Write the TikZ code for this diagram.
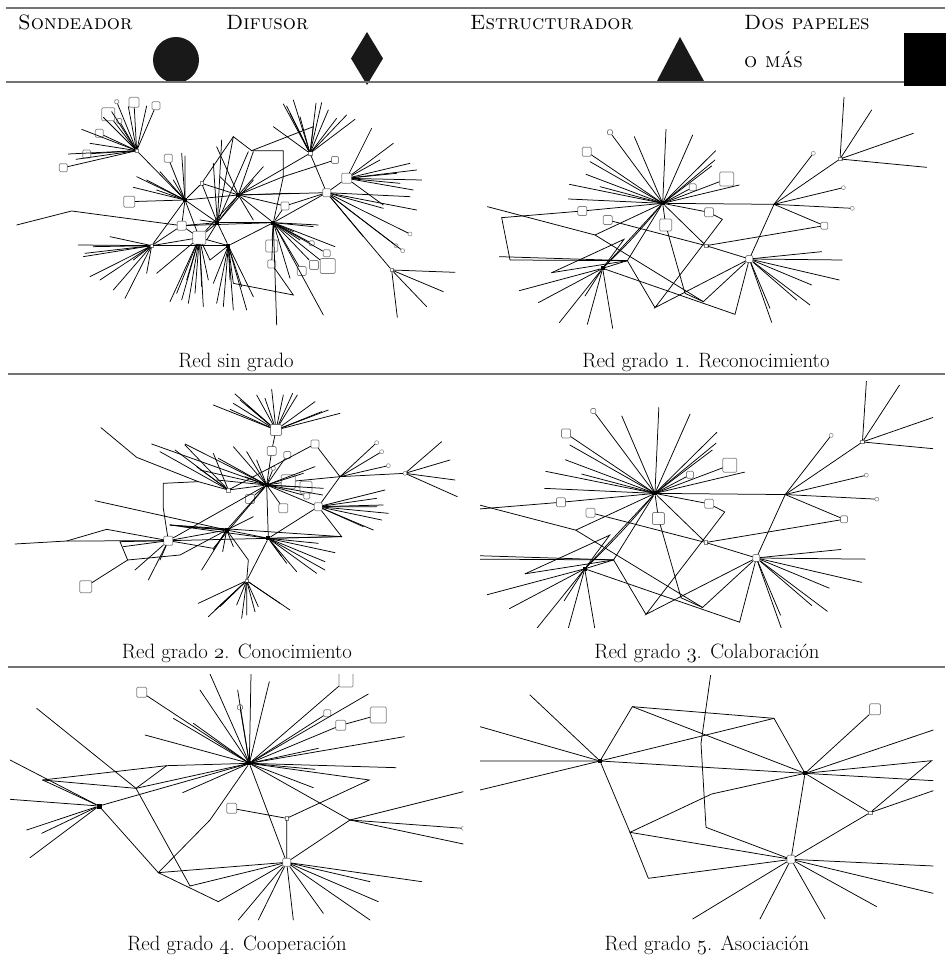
\documentclass[tikz,border=0pt]{standalone}
\usetikzlibrary{positioning}

% old style figures from the math italic font
\newcommand{\osn}[1]{{\fontencoding{OML}\fontfamily{cmm}\fontshape{it}\selectfont #1}}

\tikzset{
  tie/.style={line width=0.75pt, line cap=round},
  hub/.style={fill=black, inner sep=0pt, minimum size=4pt},
  tiny/.style={draw=gray, fill=white, inner sep=0pt, minimum size=3.5pt, line width=0.5pt},
  leaf/.style={draw=gray, fill=white, inner sep=0pt, minimum size=#1, rounded corners=1.2pt, line width=0.7pt},
  leaf/.default=8pt,
  ring/.style={circle, draw=gray, fill=white, inner sep=0pt, minimum size=4pt, line width=0.5pt},
  rule/.style={draw=black!55, line width=1.3pt},
  leyenda/.style={anchor=base west, inner sep=0pt, font=\fontsize{20.74}{25}\selectfont\scshape},
  titulo/.style={anchor=base, inner sep=0pt, font=\fontsize{20.74}{25}\selectfont}
}

% spokes with a free end
\newcommand{\spokes}[2]{%
  \foreach \sx/\sy [count=\si] in {#2}{%
    \coordinate (#1-\si) at (\sx,\sy);
    \draw[tie] (#1) -- (#1-\si);
  }}

% red grado 1 (reused for grado 3)
\newcommand{\gradouno}{%
  \node[hub] (r1) at (578,370) {};
  \coordinate (r2) at (912,373);
  \node[leaf=7pt] (r3) at (838,537) {};
  \node[hub] (r4) at (398,565) {};
  \coordinate (r5) at (472,542);
  \node[tiny] (r6) at (708,497) {};
  \node[tiny] (r7) at (1110,237) {};
  \node[leaf=5pt] (s1) at (420,157) {};
  \node[leaf=9pt] (s2) at (350,215) {};
  \node[leaf=7pt] (s3) at (668,322) {};
  \node[leaf=14pt] (s4) at (770,297) {};
  \node[leaf=9pt] (s5) at (337,393) {};
  \node[leaf=9pt] (s6) at (413,420) {};
  \node[leaf=12pt] (s7) at (587,435) {};
  \node[leaf=9pt] (s8) at (717,397) {};
  \node[ring] (s9) at (1030,220) {};
  \node[ring] (s10) at (1120,323) {};
  \node[ring] (s11) at (1147,385) {};
  \node[leaf=7pt] (s12) at (1063,437) {};
  \coordinate (k1) at (95,413);
  \coordinate (k2) at (120,540);
  \coordinate (k3) at (375,465);
  \coordinate (k4) at (555,683);
  \coordinate (k5) at (795,703);
  \coordinate (k6) at (757,418);
  \coordinate (k7) at (645,640);
  \coordinate (k8) at (52,380);
  \coordinate (k9) at (245,578);
  \coordinate (k10) at (462,478);
  \coordinate (k11) at (700,665);
  \foreach \n in {s1,s2,s3,s4,s5,s7,s8,r2,r4,r5,r6,k3} \draw[tie] (r1) -- (\n);
  \draw[tie] (r1) to[bend left=3] (r4);
  \spokes{r1}{588/148,493/170,668/165,737/212,725/258,808/315,360/245,348/283,298/313,295/357,390/320,735/240}
  \foreach \n in {s9,r7,s10,s11,s12,r3} \draw[tie] (r2) -- (\n);
  \spokes{r7}{1122/52,1205/90,1330/160,1370/262}
  \draw[tie] (k8) -- (k3) -- (k11) -- (r3);
  \draw[tie] (k1) -- (s5);
  \draw[tie] (k1) -- (k2) -- (r5);
  \draw[tie] (s6) -- (r6) -- (r3);
  \draw[tie] (r6) -- (s12);
  \draw[tie] (s8) -- (k6) -- (k4) -- (r3);
  \draw[tie] (r5) -- (k4);
  \draw[tie] (s7) -- (k7) -- (k11);
  \draw[tie] (r4) -- (k5) -- (r3);
  \draw[tie] (r4) -- (r5);
  \draw[tie] (k9) -- (r5);
  \draw[tie] (k9) -- (k10) -- (r4);
  \spokes{r5}{88/530}
  \spokes{r4}{148/632,205/668,268/728,352/733,428/745,345/648}
  \spokes{r3}{1055/515,1117/540,1108/600,1025/615,980/660,1020/675,900/685,905/727}
}

\begin{document}
\begin{tikzpicture}[x=1pt,y=-1pt]
\useasboundingbox (0,0) rectangle (945,957);

% legend
\draw[rule] (6,8) -- (945,8);
\node[leyenda] (sondeador) at (18,30) {Sondeador};
\fill[black!90] (176,60) circle (23);
\node[leyenda] (difusor) at (226,30) {Difusor};
\fill[black!90] (367,32) -- (383,58.5) -- (367,85) -- (351,58.5) -- cycle;
\node[leyenda] (estructurador) at (470,30) {Estructurador};
\fill[black!90] (680,37) -- (704,81) -- (657,81) -- cycle;
\node[leyenda] (dos) at (744,30) {Dos papeles};
\node[leyenda] (mas) at (744,68) {o más};
\draw[rule] (6,82) -- (945,82);
\fill[black] (904,33) rectangle (950,86);

% rows
\draw[rule] (8,374) -- (945,374);
\draw[rule] (8,667) -- (945,667);

% Red sin grado
\begin{scope}[shift={(0,80)},scale=1/3]
  \node[tiny] (a) at (410,212) {};
  \node[hub] (b) at (555,360) {};
  \node[leaf=9pt] (c) at (545,437) {};
  \node[leaf=13pt] (d) at (598,473) {};
  \node[hub] (e) at (652,428) {};
  \node[hub] (f) at (715,345) {};
  \node[hub] (g) at (685,497) {};
  \node[hub] (h) at (820,428) {};
  \node[tiny] (i) at (930,220) {};
  \node[leaf=8pt] (j) at (980,338) {};
  \node[leaf=10pt] (k) at (1040,295) {};
  \node[tiny] (l) at (1175,570) {};
  \node[tiny] (m) at (455,497) {};
  \node[tiny] (p) at (605,310) {};
  \node[leaf=8pt] (q) at (855,378) {};
  \node[leaf=7pt] (r) at (1005,240) {};
  \node[leaf=4pt] (a1) at (350,65) {};
  \node[leaf=10pt] (a2) at (402,67) {};
  \node[leaf=8pt] (a3) at (468,77) {};
  \node[leaf=13pt] (a4) at (325,103) {};
  \node[leaf=5pt] (a5) at (358,123) {};
  \node[leaf=8pt] (a6) at (298,160) {};
  \node[leaf=8pt] (a7) at (260,222) {};
  \node[leaf=8pt] (a8) at (190,263) {};
  \node[leaf=8pt] (b1) at (505,235) {};
  \node[leaf=11pt] (b2) at (388,365) {};
  \node[leaf=12pt] (h1) at (815,498) {};
  \node[leaf=8pt] (h2) at (815,552) {};
  \node[leaf=9pt] (h3) at (905,573) {};
  \node[leaf=9pt] (h4) at (942,555) {};
  \node[leaf=15pt] (h5) at (983,558) {};
  \node[leaf=7pt] (h6) at (980,520) {};
  \node[leaf=5pt] (h7) at (935,490) {};
  \node[ring] (j1) at (1230,462) {};
  \node[ring] (j2) at (1188,497) {};
  \node[ring] (j3) at (1208,512) {};
  \coordinate (z1) at (700,170);
  \coordinate (z2) at (755,212);
  \coordinate (z3) at (940,140);
  \coordinate (z4) at (850,212);
  \coordinate (z6) at (700,610);
  \coordinate (z7) at (880,645);
  \coordinate (z8) at (630,540);
  \coordinate (z9) at (50,435);
  \coordinate (z10) at (215,393);
  \coordinate (z11) at (850,290);
  \foreach \n in {a1,a2,a3,a4,a5,a6,a7,a8,b} \draw[tie] (a) -- (\n);
  \spokes{a}{245/148,205/222,228/238,310/112,385/80,440/78,270/190,335/95}
  \foreach \n in {b1,b2,c,d,e,f,p,m} \draw[tie] (b) -- (\n);
  \spokes{b}{545/220,555/228,410/290,400/322,440/300,480/275,520/300,470/330}
  \draw[tie] (z9) -- (z10) -- (c);
  \foreach \n in {d,e,m,h} \draw[tie] (c) -- (\n);
  \foreach \n in {e,g,f,m,z8} \draw[tie] (d) -- (\n);
  \foreach \n in {f,g,h,p} \draw[tie] (e) -- (\n);
  \foreach \n in {p,h,i,j,q,z11} \draw[tie] (f) -- (\n);
  \draw[tie] (g) -- (h);
  \draw[tie] (g) -- (m);
  \draw[tie] (z8) -- (g);
  \draw[tie] (p) -- (z1) -- (z2) -- (z3) -- (i);
  \draw[tie] (z1) -- (e);
  \draw[tie] (z2) -- (z4) -- (z11) -- (h);
  \draw[tie] (r) -- (z11);
  \draw[tie] (g) -- (z6) -- (z7) -- (h2);
  \spokes{m}{235/495,280/500,250/530,270/590,300/600,340/630,375/655,440/580,400/540,255/520,330/470}
  \spokes{d}{510/665,545/660,565/670,585/640,605/620,610/680,560/600,470/580,625/600,530/640}
  \spokes{g}{700/690,670/680,650/670,640/610,740/690,725/620,690/600,760/650}
  \foreach \n in {h1,h2,h3,h4,h5,h6,h7,q,j} \draw[tie] (h) -- (\n);
  \spokes{h}{955/435,940/440,870/595,970/705,830/735,1005/500,880/455,900/480}
  \spokes{i}{850/72,860/78,880/60,900/110,965/68,948/70,1010/115,1065/118,1040/105,820/140,870/100,985/90}
  \foreach \n in {i,k,q,l,j1,j2,j3} \draw[tie] (j) -- (\n);
  \spokes{j}{1150/385,1230/350,1250/390,1090/470}
  \spokes{k}{1265/300,1250/270,1115/145,1180/190,1230/250,1190/280,1200/310,1150/375,1140/240,1240/330}
  \spokes{l}{1365/577,1330/635,1280/680,1192/712}
  \spokes{e}{665/180,640/250,745/215,600/420,760/300,620/480}
  \spokes{f}{660/290,760/215,650/200,790/260,760/420,870/340}
\end{scope}

% Red grado 1
\begin{scope}[shift={(470,80)},scale=1/3]
  \gradouno
\end{scope}

% Red grado 2
\begin{scope}[shift={(0,370)},scale=1/3]
  \node[leaf=11pt] (t1) at (828,180) {};
  \node[leaf=9pt] (t2) at (815,243) {};
  \node[leaf=7pt] (t3) at (862,255) {};
  \node[leaf=8pt] (t4) at (945,222) {};
  \node[leaf=4pt] (t5) at (820,295) {};
  \node[hub] (u1) at (800,345) {};
  \node[leaf=14pt] (w1) at (865,335) {};
  \node[leaf=12pt] (w2) at (918,352) {};
  \node[leaf=6pt] (w3) at (920,378) {};
  \node[leaf=9pt] (w4) at (750,387) {};
  \node[leaf=9pt] (w5) at (850,415) {};
  \node[leaf=8pt] (u2) at (955,410) {};
  \coordinate (u3) at (1020,320);
  \node[ring] (o1) at (1130,218) {};
  \node[ring] (o2) at (1145,245) {};
  \node[ring] (o3) at (1165,287) {};
  \node[ring] (u4) at (1215,310) {};
  \node[tiny] (u5) at (685,360) {};
  \node[leaf=9pt] (u6) at (505,512) {};
  \node[hub] (u7) at (680,480) {};
  \node[hub] (u8) at (805,505) {};
  \node[tiny] (u9) at (740,632) {};
  \node[leaf=12pt] (u10) at (257,650) {};
  \coordinate (v1) at (45,522);
  \coordinate (v2) at (200,513);
  \coordinate (v3) at (320,478);
  \coordinate (v4) at (303,173);
  \coordinate (v5) at (410,262);
  \coordinate (v6) at (595,335);
  \coordinate (v7) at (285,392);
  \coordinate (v8) at (490,340);
  \coordinate (v9) at (383,570);
  \coordinate (v10) at (360,515);
  \coordinate (v11) at (540,555);
  \coordinate (v13) at (1025,500);
  \coordinate (v15) at (745,570);
  \coordinate (v16) at (640,535);
  \coordinate (v18) at (490,415);
  \coordinate (v21) at (510,465);
  \spokes{t1}{640/105,705/72,690/118,720/90,770/75,795/85,815/58,850/75,878/70,892/75,945/95,965/125,1020/130,985/120,740/105,700/100}
  \draw[tie] (t1) -- (t2) -- (u1);
  \foreach \n in {t3,t5,w1,w2,w3,w4,w5,u2,u5,u7,u8,u6,v16} \draw[tie] (u1) -- (\n);
  \spokes{u1}{655/265,700/230,740/245,770/270,600/300,455/222,555/222,735/320,945/290,970/355,968/375,910/310,650/330}
  \draw[tie] (t4) -- (u5);
  \draw[tie] (t4) -- (u3);
  \draw[tie] (w1) -- (u3) -- (u4);
  \foreach \n in {o1,o2,o3,u2} \draw[tie] (u3) -- (\n);
  \spokes{u4}{1325/215,1350/270,1365/330,1372/380}
  \spokes{u2}{1155/360,1130/385,1165/430,1130/410,1145/450,1120/480,1090/470,1150/405}
  \draw[tie] (u2) -- (v13) -- (u8);
  \draw[tie] (u2) -- (u8);
  \draw[tie] (v4) -- (v5) -- (v6) -- (u5);
  \spokes{u5}{480/245,525/240,555/225,590/290,640/250}
  \draw[tie] (v8) -- (v6);
  \draw[tie] (v8) -- (v18) -- (u6);
  \draw[tie] (v7) -- (u7);
  \draw[tie] (v1) -- (v2) -- (v3) -- (u6);
  \draw[tie] (v2) -- (u6);
  \draw[tie] (v10) -- (v9) -- (u10);
  \draw[tie] (v9) -- (v11) -- (u7);
  \draw[tie] (v10) -- (u6);
  \spokes{u6}{405/600,445/630,480/570,370/530}
  \draw[tie] (u6) -- (u7);
  \draw[tie] (u6) -- (u8);
  \draw[tie] (u6) -- (v16);
  \draw[tie] (v21) -- (v13);
  \draw[tie] (v21) -- (u8);
  \draw[tie] (v21) -- (u7);
  \spokes{u7}{605/600,640/540,668/545,545/470,700/530,760/440}
  \draw[tie] (u7) -- (u8);
  \draw[tie] (u7) -- (v15) -- (u9);
  \spokes{u8}{1005/548,975/575,950/610,890/605,860/580,845/560,975/600,955/520,1010/500}
  \draw[tie] (u8) -- (u9);
  \spokes{u9}{595/700,625/740,660/710,710/705,725/745,740/735,775/710,840/700,870/720,645/720,765/725}
\end{scope}

% Red grado 3
\begin{scope}
  \clip (480,381) rectangle (933,627);
  \begin{scope}[shift={(429.5,350.3)},xscale=0.39,yscale=0.3867]
    \gradouno
  \end{scope}
\end{scope}

% Red grado 4
\begin{scope}[shift={(0,600)},scale=1/3]
  \clip (30,222) rectangle (1390,960);
  \node[hub] (c1) at (748,490) {};
  \node[hub, minimum size=5pt] (c2) at (297,618) {};
  \node[leaf=8pt] (c3) at (860,787) {};
  \node[tiny] (c4) at (860,655) {};
  \node[leaf=10pt] (c5) at (425,277) {};
  \node[leaf=5pt] (c6) at (720,322) {};
  \node[leaf=14pt] (c7) at (1038,240) {};
  \node[leaf=7pt] (c8) at (982,340) {};
  \node[leaf=10pt] (c9) at (1022,376) {};
  \node[leaf=16pt] (c10) at (1135,345) {};
  \node[leaf=10pt] (c11) at (695,625) {};
  \node[ring] (c12) at (1390,685) {};
  \coordinate (d1) at (128,540);
  \coordinate (d2) at (500,497);
  \coordinate (d3) at (408,565);
  \coordinate (d4) at (630,660);
  \coordinate (d5) at (475,818);
  \coordinate (d6) at (570,858);
  \coordinate (d7) at (655,905);
  \coordinate (d8) at (1108,540);
  \coordinate (d9) at (1050,660);
  \coordinate (d10) at (110,325);
  \foreach \n in {c3,c5,c6,c7,c8,c9,c2} \draw[tie] (c1) -- (\n);
  \draw[tie] (c9) -- (c10);
  \spokes{c1}{630/222,753/222,808/245,600/270,713/270,520/355,580/370,435/405,1105/282,1213/410,955/445,1188/503,945/508,940/563,548/578}
  \draw[tie] (d1) -- (d2) -- (c1);
  \draw[tie] (d1) -- (c2);
  \draw[tie] (d1) -- (d3) -- (d2);
  \draw[tie] (d3) -- (c1);
  \draw[tie] (d10) -- (d3) -- (d6) -- (c3);
  \spokes{c2}{30/480,30/598,80/690,125/700,90/773}
  \draw[tie] (c2) -- (d5) -- (c3);
  \draw[tie] (d5) -- (d4) -- (c1);
  \draw[tie] (d5) -- (d7) -- (c3);
  \draw[tie] (c11) -- (c4) -- (c3);
  \draw[tie] (c4) -- (d8) -- (c1);
  \draw[tie] (c1) -- (d9) -- (c3);
  \draw[tie] (d9) -- (c12);
  \spokes{d9}{1390/575,1390/732}
  \spokes{c3}{715/960,775/960,880/960,970/940,1110/960,1135/905,1110/845,1265/845}
\end{scope}

% Red grado 5
\begin{scope}[shift={(470,600)},scale=1/3]
  \clip (30,225) rectangle (1390,957);
  \node[hub] (e1) at (390,483) {};
  \node[hub] (e2) at (1005,520) {};
  \node[leaf=8pt] (e3) at (963,778) {};
  \node[tiny] (e4) at (1200,638) {};
  \node[leaf=11pt] (e5) at (1215,328) {};
  \coordinate (f1) at (487,320);
  \coordinate (f2) at (912,355);
  \coordinate (f3) at (693,430);
  \coordinate (f4) at (725,582);
  \coordinate (f5) at (480,697);
  \coordinate (f6) at (535,835);
  \coordinate (f7) at (708,682);
  \coordinate (f8) at (1385,482);
  \coordinate (f9) at (722,225);
  \spokes{e1}{180/285,30/380,30/483,30/570}
  \draw[tie] (e1) -- (f1) -- (f2) -- (e2);
  \draw[tie] (f1) -- (e2);
  \draw[tie] (e1) -- (f2);
  \draw[tie] (e1) -- (e2);
  \draw[tie] (f9) -- (f3) -- (f7) -- (e3);
  \draw[tie] (e1) -- (f5) -- (f6) -- (e3);
  \draw[tie] (f5) -- (f4) -- (e2);
  \draw[tie] (f5) -- (e3);
  \draw[tie] (e2) -- (e3);
  \draw[tie] (e2) -- (e5);
  \draw[tie] (e2) -- (f8) -- (e4) -- (e3);
  \draw[tie] (e2) -- (e4);
  \spokes{e2}{1390/390,1390/542}
  \spokes{e4}{1390/572}
  \spokes{e3}{1390/798,1390/880,1220/920,1065/957,870/957,668/957}
\end{scope}

% titles
\node[titulo] (t-sin) at (236,367) {Red sin grado};
\node[titulo] (t-uno) at (706,367) {Red grado \osn{1}. Reconocimiento};
\node[titulo] (t-dos) at (237,658) {Red grado \osn{2}. Conocimiento};
\node[titulo] (t-tres) at (707,658) {Red grado \osn{3}. Colaboración};
\node[titulo] (t-cuatro) at (237,950) {Red grado \osn{4}. Cooperación};
\node[titulo] (t-cinco) at (707,950) {Red grado \osn{5}. Asociación};
\end{tikzpicture}
\end{document}
